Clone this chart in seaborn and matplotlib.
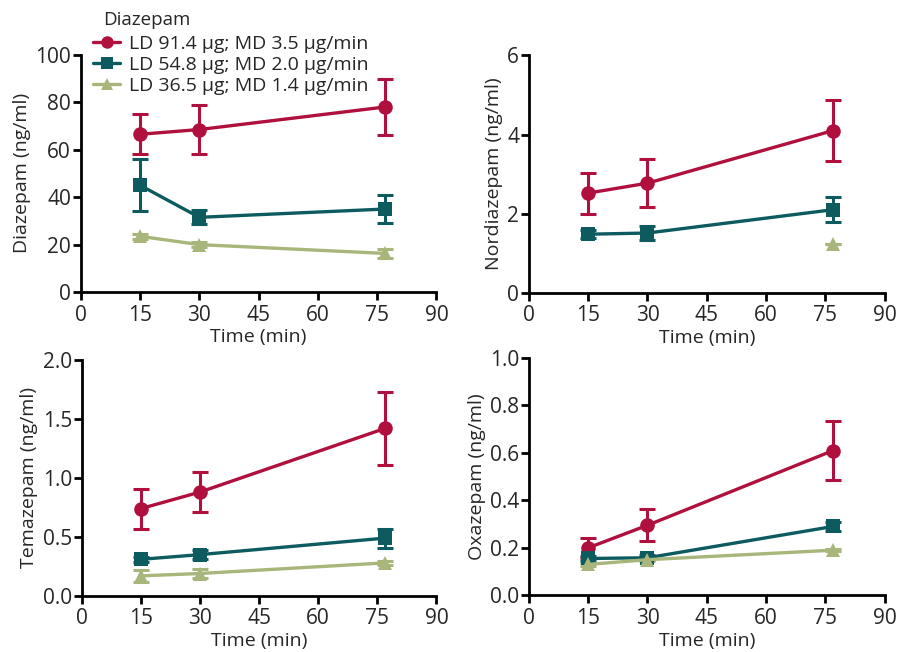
import matplotlib
matplotlib.use("Agg")
import matplotlib.pyplot as plt
from matplotlib.lines import Line2D
import seaborn as sns
import pandas as pd
import numpy as np

time = [15, 30, 77]
groups = ["LD 91.4 µg; MD 3.5 µg/min", "LD 54.8 µg; MD 2.0 µg/min", "LD 36.5 µg; MD 1.4 µg/min"]
legend_title = "Diazepam"
colors = ["#B0103D", "#0D5B5F", "#A8B57B"]
markers = ["o", "s", "^"]

# Diazepam (ng/ml)
diaz_mean = [[66.5, 68.5, 78.0], [45.0, 31.5, 35.0], [23.5, 20.0, 16.3]]
diaz_err = [[8.5, 10.5, 12.0], [11.0, 3.0, 6.0], [1.0, 1.0, 2.0]]
# Nordiazepam (ng/ml)
nord_mean = [[2.52, 2.77, 4.10], [1.48, 1.51, 2.10], [np.nan, np.nan, 1.22]]
nord_err = [[0.52, 0.60, 0.77], [0.10, 0.18, 0.32], [0.0, 0.0, 0.0]]
# Temazepam (ng/ml)
tema_mean = [[0.74, 0.88, 1.42], [0.31, 0.35, 0.49], [0.17, 0.19, 0.28]]
tema_err = [[0.17, 0.17, 0.31], [0.02, 0.04, 0.08], [0.05, 0.04, 0.02]]
# Oxazepam (ng/ml)
oxa_mean = [[0.20, 0.295, 0.61], [0.155, 0.158, 0.29], [0.13, 0.15, 0.19]]
oxa_err = [[0.042, 0.068, 0.125], [0.01, 0.01, 0.02], [0.005, 0.005, 0.005]]

panels = [
    ("Diazepam (ng/ml)", diaz_mean, diaz_err, (0, 100), [0, 20, 40, 60, 80, 100], None),
    ("Nordiazepam (ng/ml)", nord_mean, nord_err, (0, 6), [0, 2, 4, 6], None),
    ("Temazepam (ng/ml)", tema_mean, tema_err, (0, 2.0), [0.0, 0.5, 1.0, 1.5, 2.0], "{:.1f}"),
    ("Oxazepam (ng/ml)", oxa_mean, oxa_err, (0, 1.0), [0.0, 0.2, 0.4, 0.6, 0.8, 1.0], "{:.1f}"),
]

sns.set_style("ticks")
plt.rcParams['font.family'] = ['Open Sans', 'DejaVu Sans']

fig = plt.figure(figsize=(8.98, 6.52), dpi=100)
rects = [
    [0.090, 0.552, 0.396, 0.364],
    [0.589, 0.551, 0.396, 0.364],
    [0.091, 0.086, 0.395, 0.362],
    [0.589, 0.087, 0.396, 0.364],
]

for i, (ylabel, means, errs, ylim, yticks, fmt) in enumerate(panels):
    ax = fig.add_axes(rects[i])
    rows = []
    for g, name in enumerate(groups):
        for t, m, e in zip(time, means[g], errs[g]):
            rows.append({"time": t, "value": m, "err": e, "group": name})
    df = pd.DataFrame(rows)
    for g, name in enumerate(groups):
        sub = df[df["group"] == name].dropna()
        ax.errorbar(sub["time"], sub["value"], yerr=sub["err"], fmt="none",
                    ecolor=colors[g], elinewidth=2.2, capsize=6, capthick=2.2, zorder=2)
        sns.lineplot(data=sub, x="time", y="value", ax=ax, color=colors[g],
                     marker=markers[g], markersize=10.5,
                     markeredgewidth=0, linewidth=2.4, zorder=3, legend=False)
    ax.set_xlim(0, 90)
    ax.set_ylim(*ylim)
    ax.set_xticks([0, 15, 30, 45, 60, 75, 90])
    ax.set_yticks(yticks)
    if fmt:
        ax.set_yticklabels([fmt.format(v) for v in yticks])
    ax.set_xlabel("Time (min)", fontsize=14, labelpad=2)
    ax.set_ylabel(ylabel, fontsize=14, labelpad=3)
    ax.tick_params(axis="both", labelsize=15, width=2, length=6, color="black")
    ax.tick_params(axis="x", pad=3)
    ax.tick_params(axis="y", pad=1)
    for s in ["left", "bottom"]:
        ax.spines[s].set_linewidth(2)
        ax.spines[s].set_color("black")
    sns.despine(ax=ax)
    for ln in ax.lines:
        ln.set_clip_on(False)

handles = [Line2D([0], [0], color=colors[g], marker=markers[g], markersize=9,
                  markeredgewidth=0, linewidth=2.4) for g in range(3)]
fig.text(103 / 898, 1 - 20 / 652, legend_title, fontsize=13.5, ha="left", va="center")
leg = fig.legend(handles, groups, loc="upper left",
                 bbox_to_anchor=(93 / 898, 1 - 35 / 652), frameon=False, fontsize=14,
                 handlelength=1.4, handletextpad=0.45,
                 labelspacing=0.15, borderaxespad=0.0, borderpad=0.0)

fig.savefig("out.png", dpi=100)
